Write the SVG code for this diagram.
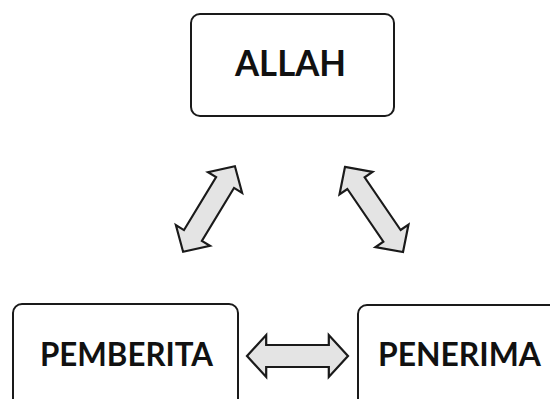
<svg xmlns="http://www.w3.org/2000/svg" xmlns:xlink="http://www.w3.org/1999/xlink" width="550" height="399" viewBox="0 0 550 399">
<style>
.box{fill:#fff;stroke:#1a1a1a;stroke-width:2}
.lbl{font-family:Lato,"Open Sans","Liberation Sans",sans-serif;font-weight:bold;fill:#111;text-anchor:middle}
.arr{fill:#e4e4e4;stroke:#1a1a1a;stroke-width:2.2;stroke-linejoin:miter}
</style>
<defs>
<path id="dbl" class="arr" d="M -50 0 L -31 -21 L -31 -11 L 31 -11 L 31 -21 L 50 0 L 31 21 L 31 11 L -31 11 L -31 21 Z"/>
</defs>
<rect width="550" height="399" fill="#fff"/>
<g id="connectors">
<use xlink:href="#dbl" transform="translate(209 209) rotate(-58.8) scale(1 0.95)"/>
<use xlink:href="#dbl" transform="translate(374 209.5) rotate(55.7) scale(1.03 0.95)"/>
<use xlink:href="#dbl" transform="translate(297.5 356) scale(1.01 1)"/>
</g>
<g id="allah">
<rect class="box" x="191" y="14" width="203" height="102" rx="9"/>
<text class="lbl" x="290.5" y="76" font-size="37" textLength="111" lengthAdjust="spacingAndGlyphs">ALLAH</text>
</g>
<g id="pemberita">
<rect class="box" x="13" y="304" width="225" height="130" rx="9"/>
<text class="lbl" x="126.5" y="366" font-size="33" textLength="173" lengthAdjust="spacingAndGlyphs">PEMBERITA</text>
</g>
<g id="penerima">
<rect class="box" x="358" y="305" width="220" height="130" rx="9"/>
<text class="lbl" x="459.5" y="366" font-size="33" textLength="163" lengthAdjust="spacingAndGlyphs">PENERIMA</text>
</g>
</svg>
